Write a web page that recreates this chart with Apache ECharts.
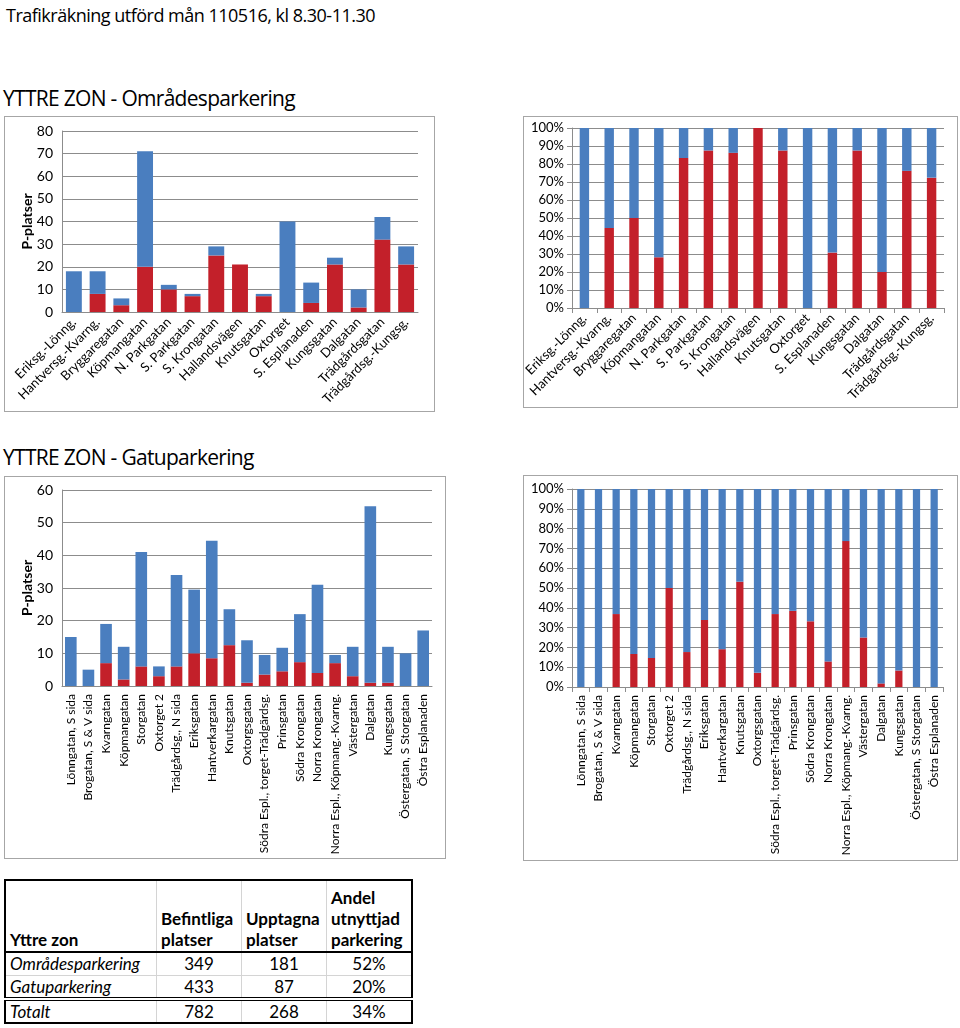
<!DOCTYPE html>
<html>
<head>
<meta charset="utf-8">
<script src="https://cdn.jsdelivr.net/npm/echarts@6/dist/echarts.min.js"></script>
<style>
  html, body { margin: 0; padding: 0; background: #fff; width: 960px; height: 1028px; overflow: hidden; font-family: Lato, "Open Sans", sans-serif; }
  .box { position: absolute; border: 1px solid #a6a6a6; box-sizing: border-box; background: #fff; }
  .ttl { position: absolute; color: #000; white-space: nowrap; font-family: "Open Sans", Lato, sans-serif; }
  table { position: absolute; left: 4px; top: 879px; border-collapse: collapse; font-family: Lato, sans-serif; font-size: 17px; color: #000; }
  td { padding: 0 4px; border-left: 1px solid #d4d4d4; white-space: nowrap; }
  td:first-child { border-left: none; }
</style>
</head>
<body>
<div class="ttl" style="left:6px;top:3px;font-size:18px;letter-spacing:-0.5px;">Trafikräkning utförd mån 110516, kl 8.30-11.30</div>
<div class="ttl" style="left:3px;top:84px;font-size:21px;letter-spacing:-0.7px;">YTTRE ZON - Områdesparkering</div>
<div class="ttl" style="left:3px;top:443px;font-size:21px;letter-spacing:-0.7px;">YTTRE ZON - Gatuparkering</div>

<div id="c1" class="box" style="left:4px;top:116px;width:431px;height:296px;"></div>
<div id="c2" class="box" style="left:523px;top:116px;width:435px;height:292px;"></div>
<div id="c3" class="box" style="left:4px;top:476px;width:442px;height:383px;"></div>
<div id="c4" class="box" style="left:523px;top:475px;width:435px;height:386px;"></div>

<table id="tbl"></table>

<script>
// ---- Data: Områdesparkering ----
const areaCats = ["Eriksg.-Lönng.", "Hantversg.-Kvarng.", "Bryggaregatan", "Köpmangatan", "N. Parkgatan", "S. Parkgatan", "S. Krongatan", "Hallandsvägen", "Knutsgatan", "Oxtorget", "S. Esplanaden", "Kungsgatan", "Dalgatan", "Trädgårdsgatan", "Trädgårdsg.-Kungsg."];
const areaOccupied = [0, 8, 3, 20, 10, 7, 25, 21, 7, 0, 4, 21, 2, 32, 21];
const areaFree = [18, 10, 3, 51, 2, 1, 4, 0, 1, 40, 9, 3, 8, 10, 8];

// ---- Data: Gatuparkering ----
const streetCats = ["Lönngatan, S sida", "Brogatan, S & V sida", "Kvarngatan", "Köpmangatan", "Storgatan", "Oxtorget 2", "Trädgårdsg., N sida", "Eriksgatan", "Hantverkargatan", "Knutsgatan", "Oxtorgsgatan", "Södra Espl., torget-Trädgärdsg.", "Prinsgatan", "Södra Krongatan", "Norra Krongatan", "Norra Espl., Köpmang.-Kvarng.", "Västergatan", "Dalgatan", "Kungsgatan", "Östergatan, S Storgatan", "Östra Esplanaden"];
const streetOccupied = [0, 0, 7, 2, 6, 3, 6, 10, 8.5, 12.5, 1, 3.5, 4.5, 7.3, 4, 7, 3, 1, 1, 0, 0];
const streetFree = [15, 5, 12, 10, 35, 3, 28, 19.5, 36, 11, 13, 6, 7.2, 14.7, 27, 2.5, 9, 54, 11, 10, 17];

// ---- Axis ticks ----
const countTicks1 = { min: 0, max: 80, interval: 10 };
const countTicks3 = { min: 0, max: 60, interval: 10 };
const pctTicks = { min: 0, max: 100, interval: 10 };

// ---- Summary table ----
const tableHeader = ["Yttre zon", "Befintliga<br>platser", "Upptagna<br>platser", "Andel<br>utnyttjad<br>parkering"];
const tableLabels = ["Områdesparkering", "Gatuparkering", "Totalt"];
const tableExisting = [349, 433, 782];
const tableOccupied = [181, 87, 268];
const tableShare = ["52%", "20%", "34%"];

const RED = '#C3202A';
const BLUE = '#4A7EBF';
const FONT = 'Lato';

function toPct(a, b) {
  return a.map((v, i) => { const t = v + b[i]; return t ? v / t * 100 : 0; });
}

function makeChart(id, cats, occ, free, opt) {
  const el = document.getElementById(id);
  const chart = echarts.init(el, null, { renderer: 'canvas' });
  const pct = opt.pct;
  const s1 = pct ? toPct(occ, free) : occ;
  const s2 = pct ? toPct(free, occ) : free;
  chart.setOption({
    animation: false,
    textStyle: { fontFamily: FONT },
    grid: { left: opt.grid[0], top: opt.grid[1], width: opt.grid[2], height: opt.grid[3], containLabel: false, outerBoundsMode: 'none' },
    xAxis: {
      type: 'category', data: cats,
      axisLine: { lineStyle: { color: '#8c8c8c', width: 1 } },
      axisTick: { show: opt.xTicks, alignWithLabel: false, length: 5, lineStyle: { color: '#8c8c8c' } },
      axisLabel: { interval: 0, rotate: opt.rotate, fontSize: opt.xFont, color: '#000', margin: opt.xMargin, fontFamily: FONT }
    },
    yAxis: {
      type: 'value', min: opt.ticks.min, max: opt.ticks.max, interval: opt.ticks.interval,
      name: opt.yName || '', nameLocation: 'middle', nameGap: opt.nameGap || 30, nameMoveOverlap: false,
      nameTextStyle: { fontWeight: 'bold', fontSize: 14, color: '#000', fontFamily: FONT },
      axisLine: { show: true, lineStyle: { color: '#8c8c8c', width: 1 } },
      axisTick: { show: opt.yTicks, length: 5, lineStyle: { color: '#8c8c8c' } },
      splitLine: { lineStyle: { color: '#8c8c8c', width: 1 } },
      axisLabel: { fontSize: opt.yFont, color: '#000', margin: opt.yMargin, fontFamily: FONT,
        formatter: pct ? '{value}%' : '{value}' }
    },
    series: [
      { type: 'bar', stack: 'a', data: s1, itemStyle: { color: RED }, barCategoryGap: opt.gap },
      { type: 'bar', stack: 'a', data: s2, itemStyle: { color: BLUE }, barCategoryGap: opt.gap }
    ]
  });
}

makeChart('c1', areaCats, areaOccupied, areaFree, {
  pct: false, grid: [57, 14, 356, 181], ticks: countTicks1, rotate: 45, xFont: 13, xMargin: 8,
  yFont: 14, yMargin: 9, yName: 'P-platser', nameGap: 28, gap: '33%', xTicks: false, yTicks: false
});
makeChart('c2', areaCats, areaOccupied, areaFree, {
  pct: true, grid: [48, 11, 372, 180], ticks: pctTicks, rotate: 45, xFont: 13, xMargin: 8,
  yFont: 13, yMargin: 8, gap: '62%', xTicks: true, yTicks: true
});
makeChart('c3', streetCats, streetOccupied, streetFree, {
  pct: false, grid: [57, 13, 370, 196], ticks: countTicks3, rotate: 90, xFont: 12, xMargin: 8,
  yFont: 14, yMargin: 9, yName: 'P-platser', nameGap: 28, gap: '34%', xTicks: false, yTicks: false
});
makeChart('c4', streetCats, streetOccupied, streetFree, {
  pct: true, grid: [48, 13, 371, 198], ticks: pctTicks, rotate: 90, xFont: 12, xMargin: 8,
  yFont: 13, yMargin: 8, gap: '59%', xTicks: true, yTicks: true
});

// ---- Build table ----
(function () {
  const t = document.getElementById('tbl');
  const widths = [151, 85, 85, 85];
  let html = '<tr style="height:72px;border-bottom:2px solid #000;">';
  tableHeader.forEach((h, i) => {
    html += '<td style="width:' + (widths[i] - 9) + 'px;vertical-align:bottom;font-weight:bold;line-height:21px;padding-bottom:1px;">' + h + '</td>';
  });
  html += '</tr>';
  tableLabels.forEach((lab, r) => {
    let style = 'height:' + (r === 0 ? 23 : 24) + 'px;';
    if (r === 1) style += 'border-top:1px solid #d4d4d4;';
    if (r === 2) style += 'border-top:4px double #000;';
    html += '<tr style="' + style + '">';
    html += '<td style="font-style:italic;">' + lab + '</td>';
    html += '<td style="text-align:center;">' + tableExisting[r] + '</td>';
    html += '<td style="text-align:center;">' + tableOccupied[r] + '</td>';
    html += '<td style="text-align:center;">' + tableShare[r] + '</td>';
    html += '</tr>';
  });
  t.innerHTML = html;
  t.style.border = '2px solid #000';
})();
</script>
</body>
</html>
